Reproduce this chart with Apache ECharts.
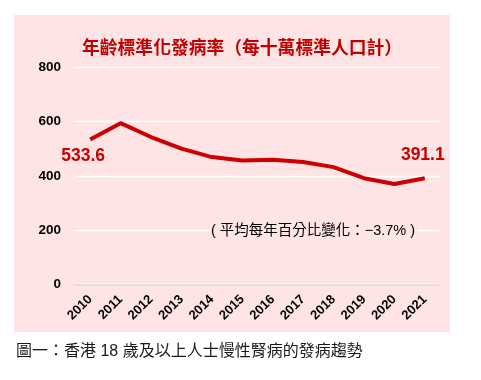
<!DOCTYPE html>
<html>
<head>
<meta charset="utf-8">
<script src="https://cdn.jsdelivr.net/npm/echarts@6/dist/echarts.min.js"></script>
<style>
html,body{margin:0;padding:0;background:#fff;}
#c{width:481px;height:380px;}
</style>
</head>
<body>
<div id="c"></div>
<script>
const years = ['2010','2011','2012','2013','2014','2015','2016','2017','2018','2019','2020','2021'];
const rates = [533.6, 594, 543, 500, 469, 456, 459, 451, 432, 391, 370, 391.1];
const yTicks = {min: 0, max: 800, interval: 200};
const titleText = '年齡標準化發病率（每十萬標準人口計）';
const noteText = '( 平均每年百分比變化：−3.7% )';
const captionText = '圖一：香港 18 歲及以上人士慢性腎病的發病趨勢';

const RED = '#CC0000';
const cjk = '"Noto Sans CJK TC", "Noto Sans CJK SC", sans-serif';
const latin = '"Liberation Sans", Arial, "Noto Sans CJK TC", sans-serif';

const seriesData = rates.map((v, i) => {
  if (i === 0) {
    return {value: v, label: {show: true, position: 'top', offset: [-7, 30]}};
  }
  if (i === rates.length - 1) {
    return {value: v, label: {show: true, position: 'top', offset: [-2, -9]}};
  }
  return v;
});

const chart = echarts.init(document.getElementById('c'), null, {renderer: 'canvas'});
chart.setOption({
  animation: false,
  graphic: [
    {type: 'rect', z: -10, shape: {x: 14, y: 15, width: 436, height: 317}, style: {fill: '#FFE4E5'}},
    {type: 'text', left: 16, top: 344, style: {text: captionText, font: '16px ' + latin, fill: '#1a1a1a'}},
    {type: 'text', z: 10, x: 313, y: 231, style: {
      text: noteText, fontSize: 14.5, fontFamily: latin, fill: '#000',
      align: 'center', verticalAlign: 'middle', backgroundColor: '#FFE4E5', padding: [1, 2]
    }}
  ],
  title: {
    text: titleText, left: 77, top: 33,
    textStyle: {color: '#C00000', fontSize: 17.8, fontWeight: 'bold', fontFamily: cjk}
  },
  grid: {left: 75, right: 41, top: 67.3, bottom: 95.7, containLabel: false},
  xAxis: {
    type: 'category', data: years, boundaryGap: true,
    axisLine: {show: true, lineStyle: {color: '#D9D9D9', width: 1.5}},
    axisTick: {show: false},
    axisLabel: {rotate: 45, margin: 13, color: '#000', fontWeight: 'bold', fontSize: 13, fontFamily: latin, interval: 0}
  },
  yAxis: {
    type: 'value', min: yTicks.min, max: yTicks.max, interval: yTicks.interval,
    axisLine: {show: false}, axisTick: {show: false},
    splitLine: {lineStyle: {color: '#FFFFFF', width: 1.3}},
    axisLabel: {margin: 14, color: '#000', fontWeight: 'bold', fontSize: 13.5, fontFamily: latin}
  },
  series: [{
    type: 'line', data: seriesData, smooth: false,
    symbol: 'circle', symbolSize: 0, showSymbol: true,
    lineStyle: {color: RED, width: 4, join: 'round'},
    itemStyle: {color: RED},
    label: {show: false, color: RED, fontSize: 17.5, fontWeight: 'bold', fontFamily: latin},
    z: 5
  }]
});
</script>
</body>
</html>
